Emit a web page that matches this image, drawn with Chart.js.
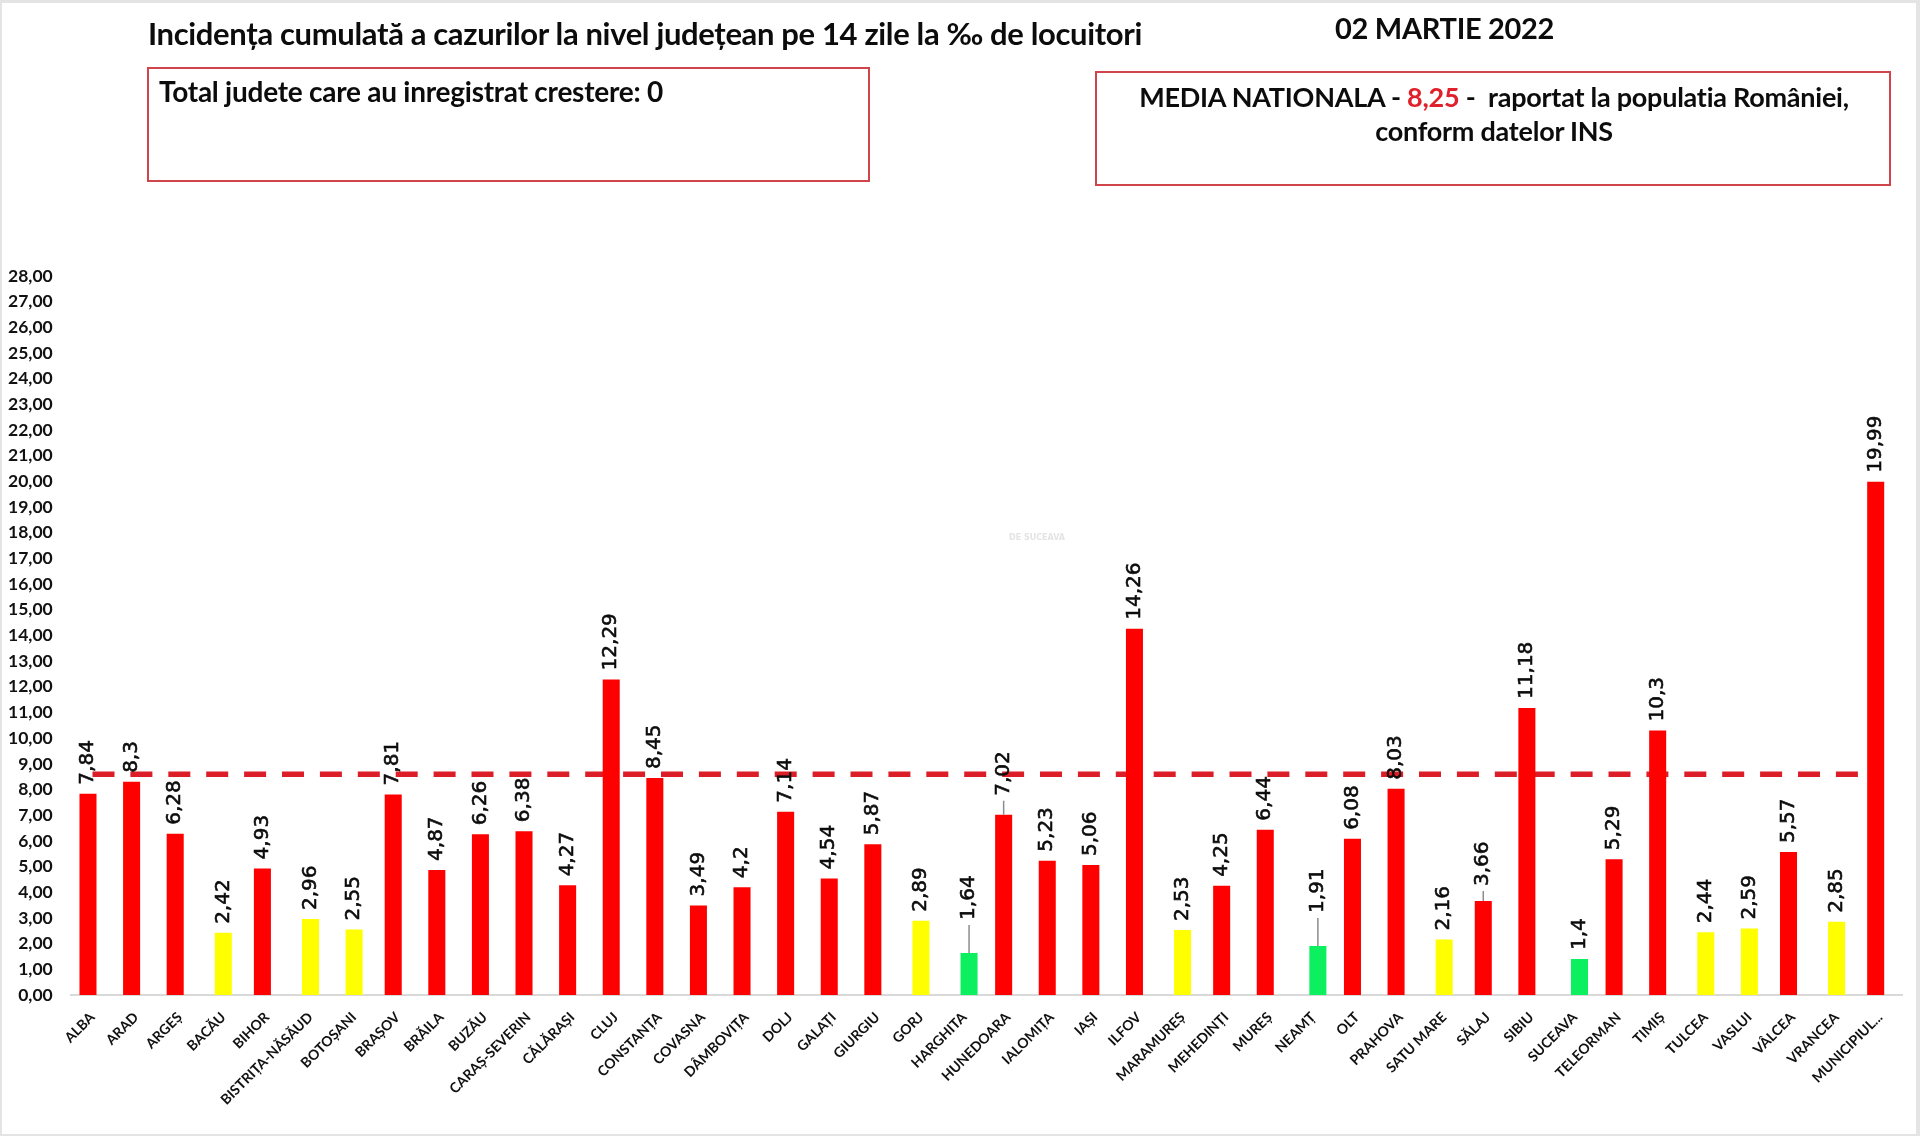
<!DOCTYPE html>
<html lang="ro">
<head>
<meta charset="utf-8">
<title>Incidenta cumulata</title>
<script src="https://cdn.jsdelivr.net/npm/chart.js@4"></script>
<style>
  html, body { margin: 0; padding: 0; background: #e4e4e4; }
  #stage { position: relative; width: 1920px; height: 1136px; overflow: hidden; filter: blur(0.7px); }
  #paper { position: absolute; left: 2px; top: 3px; width: 1914px; height: 1131px; background: #fff; }
  #chartIncidenta { position: absolute; left: 0; top: 0; }
  .txt { position: absolute; font-family: Lato, sans-serif; font-weight: 700; color: #0c0c0c; white-space: nowrap; }
  .box { position: absolute; border: 2px solid #d0444c; box-sizing: border-box; }
  #mark { position: absolute; left: 1009px; top: 533px; font: 700 8px "DejaVu Sans", sans-serif; color: #e4e4e4; }
</style>
</head>
<body>
<div id="stage">
  <div id="paper"></div>
  <canvas id="chartIncidenta" width="1920" height="1136"></canvas>
  <div class="txt" style="left:148px;top:14px;font-size:31px;letter-spacing:-0.35px">Incidența cumulată a cazurilor la nivel județean pe 14 zile la ‰ de locuitori</div>
  <div class="txt" style="left:1335px;top:10px;font-size:29px;letter-spacing:-0.3px">02 MARTIE 2022</div>
  <div class="box" style="left:147px;top:67px;width:723px;height:115px"></div>
  <div class="txt" style="left:159px;top:74px;font-size:28px;letter-spacing:-0.25px">Total judete care au inregistrat crestere: 0</div>
  <div class="box" style="left:1095px;top:71px;width:796px;height:115px"></div>
  <div class="txt" style="left:1096px;width:796px;text-align:center;top:80px;font-size:27px;letter-spacing:-0.25px">MEDIA NATIONALA - <span style="color:#e0202a">8,25</span> -&nbsp; raportat la populatia României,</div>
  <div class="txt" style="left:1096px;width:796px;text-align:center;top:114px;font-size:27px;letter-spacing:-0.25px">conform datelor INS</div>
  <div id="mark">DE SUCEAVA</div>
</div>
<script>
const judete = ['ALBA', 'ARAD', 'ARGEȘ', 'BACĂU', 'BIHOR', 'BISTRIȚA-NĂSĂUD', 'BOTOȘANI', 'BRAȘOV', 'BRĂILA', 'BUZĂU',
  'CARAȘ-SEVERIN', 'CĂLĂRAȘI', 'CLUJ', 'CONSTANȚA', 'COVASNA', 'DÂMBOVIȚA', 'DOLJ', 'GALAȚI', 'GIURGIU', 'GORJ',
  'HARGHITA', 'HUNEDOARA', 'IALOMIȚA', 'IAȘI', 'ILFOV', 'MARAMUREȘ', 'MEHEDINȚI', 'MUREȘ', 'NEAMȚ', 'OLT',
  'PRAHOVA', 'SATU MARE', 'SĂLAJ', 'SIBIU', 'SUCEAVA', 'TELEORMAN', 'TIMIȘ', 'TULCEA', 'VASLUI', 'VÂLCEA',
  'VRANCEA', 'MUNICIPIUL...'];
const valoriRosu = [7.84, 8.3, 6.28, null, 4.93, null, null, 7.81, 4.87, 6.26,
  6.38, 4.27, 12.29, 8.45, 3.49, 4.2, 7.14, 4.54, 5.87, null,
  null, 7.02, 5.23, 5.06, 14.26, null, 4.25, 6.44, null, 6.08,
  8.03, null, 3.66, 11.18, null, 5.29, 10.3, null, null, 5.57,
  null, 19.99];
const valoriGalben = [null, null, null, 2.42, null, 2.96, 2.55, null, null, null,
  null, null, null, null, null, null, null, null, null, 2.89,
  null, null, null, null, null, 2.53, null, null, null, null,
  null, 2.16, null, null, null, null, null, 2.44, 2.59, null,
  2.85, null];
const valoriVerde = [null, null, null, null, null, null, null, null, null, null,
  null, null, null, null, null, null, null, null, null, null,
  1.64, null, null, null, null, null, null, null, 1.91, null,
  null, null, null, null, 1.4, null, null, null, null, null,
  null, null];
const linieMedie = [8.6, 8.6, 8.6, 8.6, 8.6, 8.6, 8.6, 8.6, 8.6, 8.6,
  8.6, 8.6, 8.6, 8.6, 8.6, 8.6, 8.6, 8.6, 8.6, 8.6,
  8.6, 8.6, 8.6, 8.6, 8.6, 8.6, 8.6, 8.6, 8.6, 8.6,
  8.6, 8.6, 8.6, 8.6, 8.6, 8.6, 8.6, 8.6, 8.6, 8.6,
  8.6, 8.6];
// labels Excel pushed up, with a leader line down to the bar
const judeteMutate = ['HARGHITA', 'HUNEDOARA', 'NEAMȚ', 'SĂLAJ'];
const distanteMutate = [24, 10, 24, 6];

function virgula(v) {
  return String(v).replace('.', ',');
}

const pluginEtichete = {
  id: 'etichete',
  afterDatasetsDraw(chart) {
    const ctx = chart.ctx;
    chart.data.datasets.forEach((ds, di) => {
      if (ds.type === 'line') return;
      chart.getDatasetMeta(di).data.forEach((bar, i) => {
        if (ds.data[i] === null) return;
        const m = judeteMutate.indexOf(judete[i]);
        const lift = m >= 0 ? distanteMutate[m] : 0;
        if (lift > 0) {
          ctx.save();
          ctx.strokeStyle = '#8c8c8c';
          ctx.lineWidth = 1.5;
          ctx.beginPath();
          ctx.moveTo(bar.x, bar.y);
          ctx.lineTo(bar.x, bar.y - lift - 4);
          ctx.stroke();
          ctx.restore();
        }
        ctx.save();
        ctx.translate(bar.x, bar.y - 9 - lift);
        ctx.rotate(-Math.PI / 2);
        ctx.font = '20px "DejaVu Sans", sans-serif';
        ctx.fillStyle = '#0c0c0c';
        ctx.strokeStyle = '#0c0c0c';
        ctx.lineWidth = 0.6;
        ctx.textAlign = 'left';
        ctx.textBaseline = 'middle';
        ctx.fillText(virgula(ds.data[i]), 0, 0);
        ctx.strokeText(virgula(ds.data[i]), 0, 0);
        ctx.restore();
      });
    });
  }
};

const barOpts = { categoryPercentage: 0.31, barPercentage: 3.78, order: 1 };

new Chart(document.getElementById('chartIncidenta'), {
  type: 'bar',
  data: {
    labels: judete,
    datasets: [
      { ...barOpts, label: 'Rosu', data: valoriRosu, backgroundColor: '#ff0000' },
      { ...barOpts, label: 'Galben', data: valoriGalben, backgroundColor: '#ffff00' },
      { ...barOpts, label: 'Verde', data: valoriVerde, backgroundColor: '#0cf060' },
      {
        type: 'line',
        label: 'Media',
        data: linieMedie,
        order: 2,
        borderColor: '#dc1e28',
        borderWidth: 5.5,
        borderDash: [22, 15.9],
        pointRadius: 0,
        fill: false
      }
    ]
  },
  options: {
    responsive: false,
    animation: false,
    layout: { padding: { top: 276, right: 18, left: 0, bottom: 0 } },
    plugins: { legend: { display: false }, tooltip: { enabled: false } },
    scales: {
      x: {
        afterFit(scale) { scale.height = 141; },
        grid: { display: false, drawTicks: false },
        border: { display: true, color: '#d9d9d9', width: 2 },
        ticks: {
          autoSkip: false,
          maxRotation: 45,
          minRotation: 45,
          padding: 14,
          color: '#111',
          font: { family: 'Lato', weight: 'bold', size: 14 }
        }
      },
      y: {
        min: 0,
        max: 28,
        afterFit(scale) { scale.width = 70.7; },
        grid: { display: false, drawTicks: false },
        border: { display: false },
        ticks: {
          stepSize: 1,
          padding: 18,
          color: '#111',
          font: { family: 'Lato', weight: 'bold', size: 17.5 },
          callback: v => v.toFixed(2).replace('.', ',')
        }
      }
    }
  },
  plugins: [pluginEtichete]
});
</script>
</body>
</html>
